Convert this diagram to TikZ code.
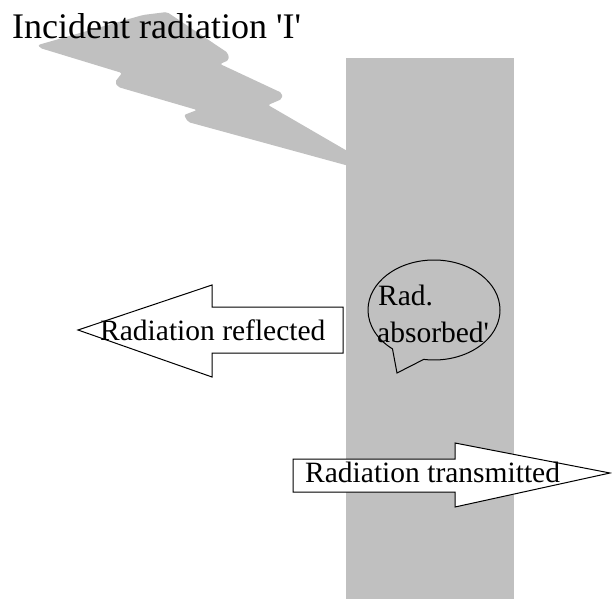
\documentclass[tikz,border=0pt]{standalone}
\usepackage{fontspec}
\setmainfont{Liberation Serif}
\usetikzlibrary{shapes.callouts}
\definecolor{slabgray}{HTML}{C0C0C0}

\begin{document}
\begin{tikzpicture}[
  x=1pt, y=-1pt,
  arrowbox/.style={draw, fill=white, line width=1pt},
  lbl/.style={font=\fontsize{29.5}{32}\selectfont, inner sep=0pt, anchor=base west}
]
\useasboundingbox (0,0) rectangle (612,599);

\fill[slabgray] (346,58) rectangle (514,599);
\fill[slabgray, rounded corners=2pt] (38,45) -- (143,15) -- (167,12) -- (228,53) -- (229,60)
  -- (220,64) -- (282,93) -- (282,99) -- (268,105) -- (349,152) -- (349,166) -- (188,122)
  -- (184,115) -- (197,110) -- (118,87) -- (115,82) -- (122,73) -- (40,48) -- cycle;

\node[lbl, font=\fontsize{36}{40}\selectfont] (title) at (12,39)
  {Incident radiation \textquotesingle I\textquotesingle};

\draw[arrowbox] (78,330) -- (212,285) -- (212,307) -- (343,307) -- (343,353)
  -- (212,353) -- (212,377) -- cycle;
\node[lbl] (reflected) at (100,340) {Radiation reflected};

\draw[arrowbox] (293,459) -- (455,459) -- (455,443) -- (610,473) -- (455,507)
  -- (455,492) -- (293,492) -- cycle;
\node[lbl] (transmitted) at (305,482) {Radiation transmitted};

\node[ellipse callout, draw, line width=1pt, inner sep=0pt, minimum width=132pt,
  minimum height=100pt, callout absolute pointer={(397,373)},
  callout pointer arc=30] (bubble) at (434,310) {};
\node[lbl] (rad) at (378,305) {Rad.};
\node[lbl] (absorbed) at (377,342) {absorbed\textquotesingle};
\end{tikzpicture}
\end{document}
